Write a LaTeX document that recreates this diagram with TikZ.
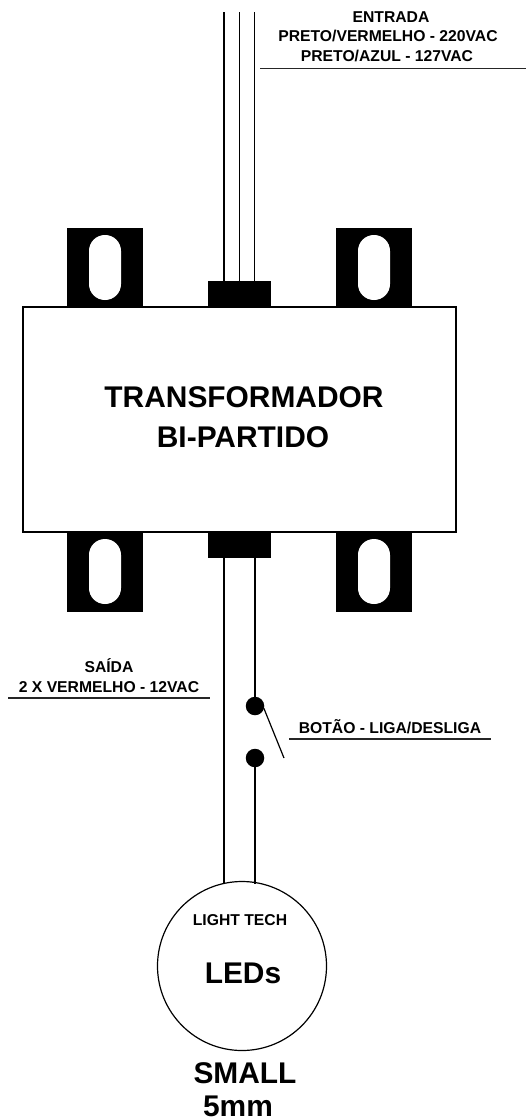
\documentclass[tikz,border=0pt]{standalone}
\usepackage{fontspec}
\setmainfont{Liberation Sans}
\begin{document}
\begin{tikzpicture}[x=1pt,y=-1pt,
  every node/.style={inner sep=0pt,outer sep=0pt},
  wire/.style={line width=1.2pt,black},
  rule/.style={line width=1.2pt,black!85},
  lug/.style={fill=black,draw=none,minimum width=76pt,minimum height=79.5pt},
  slot/.style={fill=white,draw=none,minimum width=32pt,minimum height=65pt,rounded corners=15.9pt},
  conn/.style={fill=black,draw=none,minimum width=63pt,minimum height=26.5pt},
  body/.style={draw=black,line width=1.2pt,fill=white,minimum width=433pt,minimum height=225pt},
  dot/.style={circle,fill=black,minimum size=18.5pt},
  lamp/.style={circle,draw=black,line width=1.2pt,fill=white,minimum size=169pt},
  small/.style={font=\fontsize{15.7}{17}\selectfont\bfseries,anchor=base},
  medium/.style={font=\fontsize{29.9}{32}\selectfont\bfseries,anchor=base},
]
\useasboundingbox (0,0) rectangle (526,1120);
\fill[white] (0,0) rectangle (526,1120);
% lugs
\node[lug] (lugTL) at (105,267.5) {};
\node[lug] (lugTR) at (374,267.5) {};
\node[lug] (lugBL) at (105,572) {};
\node[lug] (lugBR) at (374,572) {};
\node[slot] (slotTL) at (105,267.5) {};
\node[slot] (slotTR) at (374,267.5) {};
\node[slot] (slotBL) at (105,571.5) {};
\node[slot] (slotBR) at (374,571.5) {};
% body
\node[body] (box) at (239.5,419.5) {};
\node[conn] (connT) at (239.5,294.2) {};
\node[conn] (connB) at (239.5,545.2) {};
\node[medium] (t1) at (244,407) {TRANSFORMADOR};
\node[medium] (t2) at (243,447) {BI-PARTIDO};
% input wires
\coordinate (w1) at (224,12);
\coordinate (w2) at (239.5,12);
\coordinate (w3) at (254.5,12);
\draw[wire] (w1) -- (w1 |- connT.north);
\draw[wire] (w2) -- (w2 |- connT.north);
\draw[wire] (w3) -- (w3 |- connT.north);
% lamp and output wires
\node[lamp] (lamp) at (242,966) {};
\node[dot] (d1) at (255,706) {};
\node[dot] (d2) at (255,758) {};
\coordinate (wL) at (224,883.5);
\draw[wire] (wL |- connB.south) -- (wL);
\draw[wire] (d1 |- connB.south) -- (d1.north);
\draw[wire] (d2.south) -- (255,883.5);
\coordinate (swEnd) at (284,758);
\draw[wire] (d1.east) ++(-0.5,2) -- (swEnd);
% labels
\node[small] (e1) at (391,22) {ENTRADA};
\node[small] (e2) at (388,41.5) {PRETO/VERMELHO - 220VAC};
\node[small] (e3) at (387,61) {PRETO/AZUL - 127VAC};
\coordinate (r1a) at (260,68.5);
\coordinate (r1b) at (526,68.5);
\draw[rule] (r1a) -- (r1b);
\node[small] (s1) at (109,672) {SAÍDA};
\node[small] (s2) at (109,692) {2 X VERMELHO - 12VAC};
\coordinate (r2a) at (8,698);
\coordinate (r2b) at (210,698);
\draw[rule] (r2a) -- (r2b);
\node[small] (b1) at (390,733) {BOTÃO - LIGA/DESLIGA};
\coordinate (r3a) at (289,739);
\coordinate (r3b) at (491,739);
\draw[rule] (r3a) -- (r3b);
\node[small] (l1) at (240,925) {LIGHT TECH};
\node[medium] (l2) at (243,983) {LEDs};
\node[medium] (l3) at (245,1083) {SMALL};
\node[medium] (l4) at (238,1116.5) {5mm};
\end{tikzpicture}
\end{document}
